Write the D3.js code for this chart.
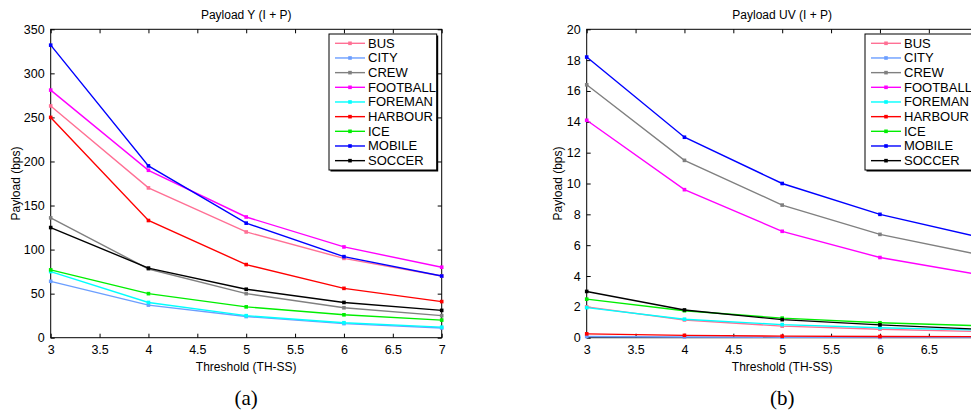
<!DOCTYPE html>
<html>
<head>
<meta charset="utf-8">
<script src="https://cdn.jsdelivr.net/npm/d3@7"></script>
<style>
  body { margin: 0; background: #fff; }
  svg { display: block; font-family: "Liberation Sans", Arial, sans-serif; }
</style>
</head>
<body>
<svg id="chart" width="971" height="414"></svg>
<script>
// thresholds on the x axis
var thresholds = [3, 4, 5, 6, 7];
var sequences = ["BUS", "CITY", "CREW", "FOOTBALL", "FOREMAN", "HARBOUR", "ICE", "MOBILE", "SOCCER"];
var colors = ["#ff7095", "#6b9eff", "#808080", "#ff00ff", "#00ffff", "#ff0000", "#00ee00", "#0000ff", "#000000"];

// payload Y (I + P)
var busY      = [263, 170, 120, 90, 70];
var cityY     = [64, 37, 24, 16, 11];
var crewY     = [136, 78, 50, 34, 25];
var footballY = [281, 190, 137, 103, 80];
var foremanY  = [75, 40, 25, 17, 12];
var harbourY  = [250, 133, 83, 56, 41];
var iceY      = [77, 50, 35, 26, 20];
var mobileY   = [332, 195, 130, 92, 70];
var soccerY   = [125, 79, 55, 40, 31];

// payload UV (I + P)
var busUV      = [2.0, 1.15, 0.75, 0.55, 0.4];
var cityUV     = [0.08, 0.05, 0.03, 0.02, 0.02];
var crewUV     = [16.4, 11.5, 8.6, 6.7, 5.4];
var footballUV = [14.1, 9.6, 6.9, 5.2, 4.1];
var foremanUV  = [1.95, 1.2, 0.85, 0.65, 0.5];
var harbourUV  = [0.25, 0.15, 0.1, 0.08, 0.07];
var iceUV      = [2.5, 1.75, 1.27, 0.97, 0.78];
var mobileUV   = [18.2, 13.0, 10.0, 8.0, 6.55];
var soccerUV   = [3.0, 1.8, 1.17, 0.83, 0.55];

var xTicks = [3, 3.5, 4, 4.5, 5, 5.5, 6, 6.5, 7];
var yTicksY = [0, 50, 100, 150, 200, 250, 300, 350];
var yTicksUV = [0, 2, 4, 6, 8, 10, 12, 14, 16, 18, 20];

var svg = d3.select("#chart");

function drawPanel(opts) {
  var left = opts.left, width = 391, top = 29.3, height = 308.4;
  var g = svg.append("g").attr("transform", "translate(" + left + "," + top + ")");

  var x = d3.scaleLinear().domain([3, 7]).range([0, width]);
  var y = d3.scaleLinear().domain(opts.yDomain).range([height, 0]);

  // box
  g.append("rect").attr("width", width).attr("height", height)
    .attr("fill", "none").attr("stroke", "#000").attr("stroke-width", 1);

  // axes, ticks pointing inward like matlab
  var fmt = function(d) { return String(d); };
  var xfmt = function(d) { return d > opts.lastXLabel ? "" : String(d); };
  g.append("g").attr("transform", "translate(0," + height + ")")
    .call(d3.axisBottom(x).tickValues(xTicks).tickSize(-4).tickPadding(7).tickFormat(xfmt));
  g.append("g")
    .call(d3.axisTop(x).tickValues(xTicks).tickSize(-4).tickFormat(""));
  g.append("g")
    .call(d3.axisLeft(y).tickValues(opts.yTicks).tickSize(-4).tickPadding(6).tickFormat(fmt));
  g.append("g").attr("transform", "translate(" + width + ",0)")
    .call(d3.axisRight(y).tickValues(opts.yTicks).tickSize(-4).tickFormat(""));
  g.selectAll(".domain").remove();
  g.selectAll(".tick line").attr("stroke", "#000");
  g.selectAll(".tick text").attr("font-size", 12.5).attr("fill", "#000")
    .attr("font-family", "Liberation Sans, Arial, sans-serif");

  // lines
  var line = d3.line()
    .x(function(d, i) { return x(thresholds[i]); })
    .y(function(d) { return y(d); });

  opts.series.forEach(function(vals, k) {
    g.append("path").datum(vals)
      .attr("d", line).attr("fill", "none")
      .attr("stroke", colors[k]).attr("stroke-width", 1.4);
    g.selectAll(null).data(vals).enter().append("rect")
      .attr("x", function(d, i) { return x(thresholds[i]) - 1.8; })
      .attr("y", function(d) { return y(d) - 1.8; })
      .attr("width", 3.6).attr("height", 3.6)
      .attr("fill", colors[k]);
  });

  // titles
  g.append("text").attr("x", width / 2).attr("y", -10)
    .attr("text-anchor", "middle").attr("font-size", 12).text(opts.title);
  g.append("text").attr("x", width / 2).attr("y", height + 33)
    .attr("text-anchor", "middle").attr("font-size", 12).text("Threshold (TH-SS)");
  g.append("text").attr("transform", "translate(" + opts.yLabelX + "," + (height / 2) + ") rotate(-90)")
    .attr("text-anchor", "middle").attr("dominant-baseline", "central")
    .attr("font-size", 12).text("Payload (bps)");

  // legend
  var lg = g.append("g").attr("transform", "translate(278.3,4.7)");
  lg.append("rect").attr("x", 1.5).attr("y", 1.5).attr("width", 107.7).attr("height", 136)
    .attr("fill", "#000");
  lg.append("rect").attr("width", 107.7).attr("height", 136)
    .attr("fill", "#fff").attr("stroke", "#000").attr("stroke-width", 1);
  sequences.forEach(function(name, k) {
    var cy = 9.3 + k * 14.67;
    lg.append("line").attr("x1", 6).attr("x2", 36).attr("y1", cy).attr("y2", cy)
      .attr("stroke", colors[k]).attr("stroke-width", 1.4);
    lg.append("rect").attr("x", 19.2).attr("y", cy - 1.8).attr("width", 3.6).attr("height", 3.6)
      .attr("fill", colors[k]);
    lg.append("text").attr("x", 39).attr("y", cy).attr("dominant-baseline", "central")
      .attr("font-size", 13).text(name);
  });

  // sub caption
  svg.append("text").attr("x", left + width / 2).attr("y", 405)
    .attr("text-anchor", "middle").attr("font-family", "Liberation Serif, serif")
    .attr("font-size", 21).text(opts.caption);
}

drawPanel({
  left: 50.7, yDomain: [0, 350], yTicks: yTicksY, title: "Payload Y (I + P)",
  yLabelX: -35, caption: "(a)", lastXLabel: 7,
  series: [busY, cityY, crewY, footballY, foremanY, harbourY, iceY, mobileY, soccerY]
});
// right panel runs past the window edge, its "7" label is off screen
drawPanel({
  left: 586.7, yDomain: [0, 20], yTicks: yTicksUV, title: "Payload UV (I + P)",
  yLabelX: -29, caption: "(b)", lastXLabel: 6.5,
  series: [busUV, cityUV, crewUV, footballUV, foremanUV, harbourUV, iceUV, mobileUV, soccerUV]
});
</script>
</body>
</html>
